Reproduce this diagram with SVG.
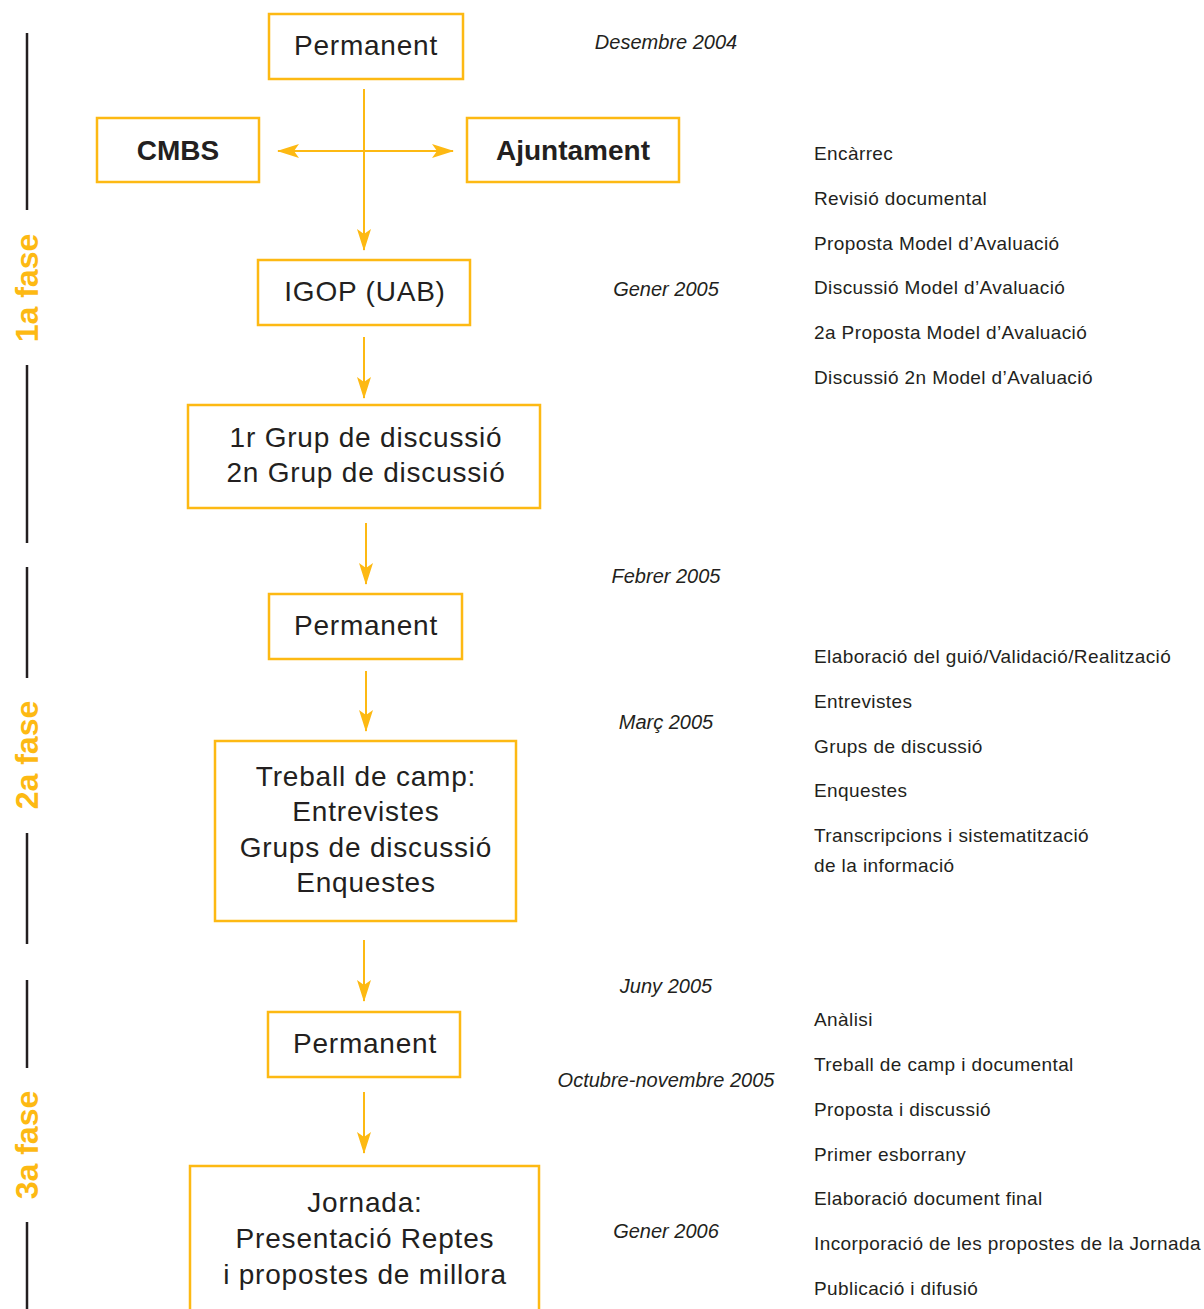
<svg xmlns="http://www.w3.org/2000/svg" width="1204" height="1309" viewBox="0 0 1204 1309">
<style>
.box{fill:#fff;stroke:#FDB913;stroke-width:2.5}
.bt{font-family:"Liberation Sans",Arial,sans-serif;font-size:28px;letter-spacing:0.8px;fill:#231f20;text-anchor:middle}
.bb{font-family:"Liberation Sans",Arial,sans-serif;font-size:28px;font-weight:bold;fill:#231f20;text-anchor:middle}
.dt{font-family:"Liberation Sans",Arial,sans-serif;font-size:20px;font-style:italic;fill:#231f20;text-anchor:middle}
.rt{font-family:"Liberation Sans",Arial,sans-serif;font-size:19px;letter-spacing:0.4px;fill:#231f20}
.ph{font-family:"Liberation Sans",Arial,sans-serif;font-size:32px;font-weight:bold;fill:#FDB913;text-anchor:middle}
.con{stroke:#FDB913;stroke-width:2;fill:none}
.pl{stroke:#231f20;stroke-width:2.5}
</style>
<defs>
<marker id="ah" viewBox="0 0 22 14" refX="21" refY="7" markerWidth="22" markerHeight="14" markerUnits="userSpaceOnUse" orient="auto-start-reverse">
<path d="M0,0 L22,7 L0,14 L5,7 z" fill="#FDB913"/>
</marker>
</defs>
<rect width="1204" height="1309" fill="#fff"/>

<g id="phases">
<line class="pl" x1="27" y1="33" x2="27" y2="210"/>
<line class="pl" x1="27" y1="365" x2="27" y2="543"/>
<text class="ph" transform="translate(38,288) rotate(-90)">1a fase</text>
<line class="pl" x1="27" y1="567" x2="27" y2="678"/>
<line class="pl" x1="27" y1="833" x2="27" y2="944"/>
<text class="ph" transform="translate(38,755) rotate(-90)">2a fase</text>
<line class="pl" x1="27" y1="980" x2="27" y2="1068"/>
<line class="pl" x1="27" y1="1222" x2="27" y2="1309"/>
<text class="ph" transform="translate(38,1145) rotate(-90)">3a fase</text>
</g>

<g id="connectors">
<line class="con" x1="364" y1="89" x2="364" y2="250" marker-end="url(#ah)"/>
<line class="con" x1="278" y1="151" x2="453" y2="151" marker-start="url(#ah)" marker-end="url(#ah)"/>
<line class="con" x1="364" y1="337" x2="364" y2="398" marker-end="url(#ah)"/>
<line class="con" x1="366" y1="523" x2="366" y2="584" marker-end="url(#ah)"/>
<line class="con" x1="366" y1="671" x2="366" y2="731" marker-end="url(#ah)"/>
<line class="con" x1="364" y1="940" x2="364" y2="1001" marker-end="url(#ah)"/>
<line class="con" x1="364" y1="1092" x2="364" y2="1153" marker-end="url(#ah)"/>
</g>

<g id="permanent1">
<rect class="box" x="269" y="14" width="194" height="65"/>
<text class="bt" x="366" y="55">Permanent</text>
</g>
<g id="cmbs">
<rect class="box" x="97" y="118" width="162" height="64"/>
<text class="bb" x="178" y="160">CMBS</text>
</g>
<g id="ajuntament">
<rect class="box" x="467" y="118" width="212" height="64"/>
<text class="bb" x="573" y="160">Ajuntament</text>
</g>
<g id="igop">
<rect class="box" x="258" y="260" width="212" height="65"/>
<text class="bt" x="365" y="301">IGOP (UAB)</text>
</g>
<g id="grups">
<rect class="box" x="188" y="405" width="352" height="103"/>
<text class="bt" x="366" y="447">1r Grup de discussió</text>
<text class="bt" x="366" y="482">2n Grup de discussió</text>
</g>
<g id="permanent2">
<rect class="box" x="269" y="594" width="193" height="65"/>
<text class="bt" x="366" y="635">Permanent</text>
</g>
<g id="treball">
<rect class="box" x="215" y="741" width="301" height="180"/>
<text class="bt" x="366" y="786">Treball de camp:</text>
<text class="bt" x="366" y="821">Entrevistes</text>
<text class="bt" x="366" y="857">Grups de discussió</text>
<text class="bt" x="366" y="892">Enquestes</text>
</g>
<g id="permanent3">
<rect class="box" x="268" y="1012" width="192" height="65"/>
<text class="bt" x="365" y="1053">Permanent</text>
</g>
<g id="jornada">
<rect class="box" x="190" y="1166" width="349" height="200"/>
<text class="bt" x="365" y="1212">Jornada:</text>
<text class="bt" x="365" y="1248">Presentació Reptes</text>
<text class="bt" x="365" y="1284">i propostes de millora</text>
</g>

<g id="dates">
<text class="dt" x="666" y="49">Desembre 2004</text>
<text class="dt" x="666" y="296">Gener 2005</text>
<text class="dt" x="666" y="583">Febrer 2005</text>
<text class="dt" x="666" y="729">Març 2005</text>
<text class="dt" x="666" y="993">Juny 2005</text>
<text class="dt" x="666" y="1087">Octubre-novembre 2005</text>
<text class="dt" x="666" y="1238">Gener 2006</text>
</g>

<g id="tasks">
<text class="rt" x="814" y="160">Encàrrec</text>
<text class="rt" x="814" y="205">Revisió documental</text>
<text class="rt" x="814" y="250">Proposta Model d’Avaluació</text>
<text class="rt" x="814" y="294">Discussió Model d’Avaluació</text>
<text class="rt" x="814" y="339">2a Proposta Model d’Avaluació</text>
<text class="rt" x="814" y="384">Discussió 2n Model d’Avaluació</text>
<text class="rt" x="814" y="663">Elaboració del guió/Validació/Realització</text>
<text class="rt" x="814" y="708">Entrevistes</text>
<text class="rt" x="814" y="753">Grups de discussió</text>
<text class="rt" x="814" y="797">Enquestes</text>
<text class="rt" x="814" y="842">Transcripcions i sistematització</text>
<text class="rt" x="814" y="872">de la informació</text>
<text class="rt" x="814" y="1026">Anàlisi</text>
<text class="rt" x="814" y="1071">Treball de camp i documental</text>
<text class="rt" x="814" y="1116">Proposta i discussió</text>
<text class="rt" x="814" y="1161">Primer esborrany</text>
<text class="rt" x="814" y="1205">Elaboració document final</text>
<text class="rt" x="814" y="1250">Incorporació de les propostes de la Jornada</text>
<text class="rt" x="814" y="1295">Publicació i difusió</text>
</g>
</svg>
